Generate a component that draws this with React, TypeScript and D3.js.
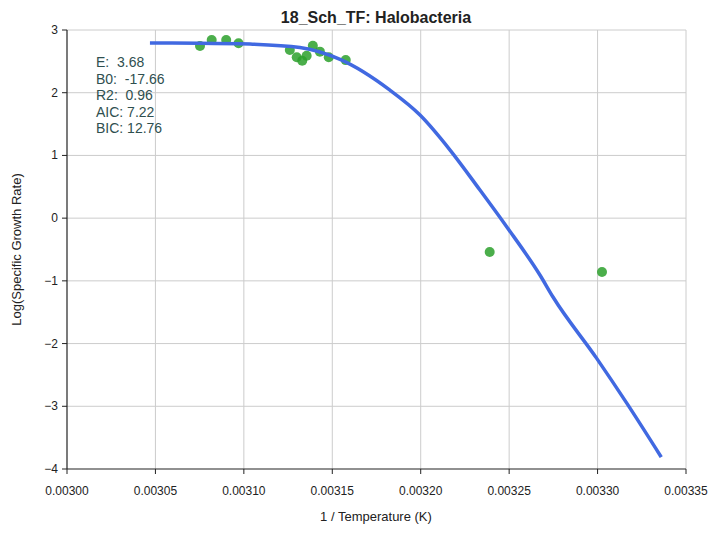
import React from "react";
import * as d3 from "d3";

const pointsX = [0.0030752, 0.0030818, 0.003090, 0.003097, 0.003126, 0.0031299, 0.003133, 0.0031355, 0.003139, 0.003143, 0.003148, 0.0031576, 0.003239, 0.0033025];
const pointsY = [2.745, 2.84, 2.84, 2.79, 2.68, 2.565, 2.51, 2.59, 2.75, 2.655, 2.565, 2.52, -0.54, -0.86];
const curveX = [0.0030469, 0.0030752, 0.0031035, 0.0031317, 0.0031544, 0.0031826, 0.0031996, 0.0032166, 0.0032335, 0.0032486, 0.0032674, 0.0032748, 0.0032995, 0.0033165, 0.003336];
const curveY = [2.793, 2.79, 2.775, 2.72, 2.53, 2.04, 1.644, 1.086, 0.448, -0.137, -0.907, -1.258, -2.236, -2.95, -3.81];
const xTicks = [0.003, 0.00305, 0.0031, 0.00315, 0.0032, 0.00325, 0.0033, 0.00335];
const yTicks = [-4, -3, -2, -1, 0, 1, 2, 3];
const stats = ["E:  3.68", "B0:  -17.66", "R2:  0.96", "AIC: 7.22", "BIC: 12.76"];

export default function App() {
  const L = 67, R = 686, T = 30, B = 469;
  const x = d3.scaleLinear().domain([0.003, 0.00335]).range([L, R]);
  const y = d3.scaleLinear().domain([-4, 3]).range([B, T]);
  const line = d3.line<number>().x((_, i) => x(curveX[i])).y((d) => y(d)).curve(d3.curveMonotoneX);
  const font = "'Liberation Sans', Arial, sans-serif";
  return (
    <svg width={720} height={533} style={{ position: "absolute", left: 0, top: 0, fontFamily: font }}>
      <rect width={720} height={533} fill="white" />
      {xTicks.slice(1).map((t) => <line key={"gx" + t} x1={x(t)} x2={x(t)} y1={T} y2={B} stroke="#cccccc" />)}
      {yTicks.slice(1).map((t) => <line key={"gy" + t} x1={L} x2={R} y1={y(t)} y2={y(t)} stroke="#cccccc" />)}
      <line x1={L} x2={L} y1={T} y2={B} stroke="#222" strokeWidth={1.2} />
      <line x1={L} x2={R} y1={B} y2={B} stroke="#222" strokeWidth={1.2} />
      {xTicks.map((t) => (
        <g key={"xt" + t}>
          <line x1={x(t)} x2={x(t)} y1={B} y2={B + 5} stroke="#222" />
          <text x={x(t)} y={B + 26} textAnchor="middle" fontSize={12} fill="#222">{t.toFixed(5)}</text>
        </g>
      ))}
      {yTicks.map((t) => (
        <g key={"yt" + t}>
          <line x1={L - 5} x2={L} y1={y(t)} y2={y(t)} stroke="#222" />
          <text x={L - 9} y={y(t) + 4} textAnchor="end" fontSize={12} fill="#222">{t < 0 ? "\u2212" + Math.abs(t) : t}</text>
        </g>
      ))}
      {pointsX.map((px, i) => (
        <circle key={"p" + i} cx={x(px)} cy={y(pointsY[i])} r={5} fill="#2ca02c" fillOpacity={0.85} />
      ))}
      <path d={line(curveY) || ""} fill="none" stroke="#4169e1" strokeWidth={3.5} />
      {stats.map((s, i) => (
        <text key={s} x={96} y={67 + i * 16.5} fontSize={14} fill="#2f4f4f" style={{ whiteSpace: "pre" }}>{s}</text>
      ))}
      <text x={376} y={23} textAnchor="middle" fontSize={16} fontWeight="bold" fill="#222">18_Sch_TF: Halobacteria</text>
      <text x={376} y={521} textAnchor="middle" fontSize={13} fill="#222">1 / Temperature (K)</text>
      <text transform={`translate(21,${(T + B) / 2}) rotate(-90)`} textAnchor="middle" fontSize={13} fill="#222">Log(Specific Growth Rate)</text>
    </svg>
  );
}
